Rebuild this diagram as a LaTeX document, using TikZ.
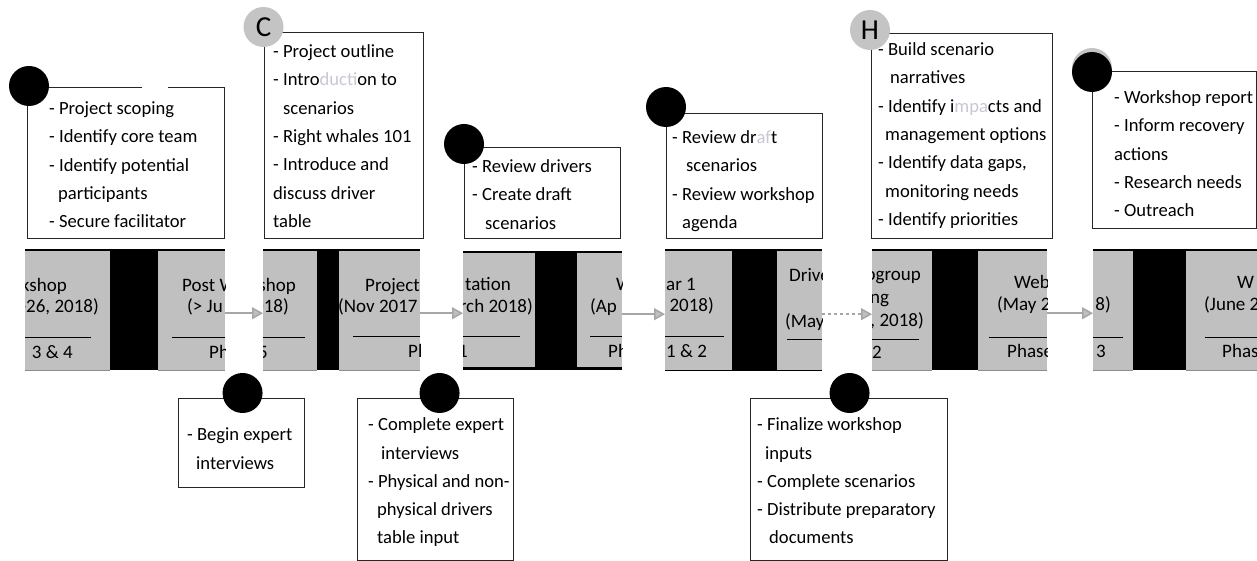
\documentclass[tikz,border=0pt]{standalone}
\usepackage{fontspec}
\setmainfont{Carlito}
\usetikzlibrary{arrows.meta,positioning}

\definecolor{stripgray}{RGB}{192,192,192}
\definecolor{dotgray}{RGB}{196,196,196}
\definecolor{arrowgray}{RGB}{166,166,166}
\definecolor{headgray}{RGB}{191,191,191}
\definecolor{fade}{RGB}{200,200,214}

\newcommand{\stripfont}{\fontsize{19}{22}\selectfont}
\newcommand{\listfont}{\fontsize{18.6}{28.3}\selectfont}
\newcommand{\dotfont}{\fontsize{29}{30}\selectfont}
\newcommand{\topstrut}{\rule{0pt}{13.5pt}}

\begin{document}
\begin{tikzpicture}[x=1pt, y=-1pt,
  piece/.style={fill=stripgray, inner sep=0pt, minimum height=120, anchor=north west},
  gapblock/.style={fill=black, inner sep=0pt, minimum height=120, anchor=north west},
  striptext/.style={font=\stripfont, inner sep=0pt},
  sepline/.style={line width=0.9pt},
  flow/.style={draw=arrowgray, line width=1.5pt, -{Triangle[length=11pt,width=12pt,fill=headgray]}},
  callout/.style={draw=black!85, line width=1.1pt, fill=white, inner sep=0pt, anchor=north west},
  listtext/.style={font=\listfont, align=left, inner sep=0pt, anchor=north west},
  blackdot/.style={circle, fill=black, minimum size=40, inner sep=0pt},
  greydot/.style={circle, fill=dotgray, minimum size=40, inner sep=0pt, font=\dotfont}]

\useasboundingbox (0,0) rectangle (1257,561);

% the strip of cut pieces
\node[piece, minimum width=85] (pA) at (25,250) {};
\node[gapblock, minimum width=48] (gA) at (110,250) {};
\node[piece, minimum width=67] (pB) at (158,250) {};
\node[piece, minimum width=54] (pC) at (263,250) {};
\node[gapblock, minimum width=22] (gB) at (317,250) {};
\node[piece, minimum width=81] (pD) at (339,250) {};
\node[piece, minimum width=72, minimum height=118] (pE) at (463,252) {};
\node[gapblock, minimum width=42, minimum height=118] (gC) at (535,252) {};
\node[piece, minimum width=45, minimum height=118] (pF) at (577,252) {};
\node[piece, minimum width=67] (pG) at (665,250) {};
\node[gapblock, minimum width=45] (gD) at (732,250) {};
\node[piece, minimum width=45] (pH) at (777,250) {};
\node[piece, minimum width=60] (pI) at (872,250) {};
\node[gapblock, minimum width=46] (gE) at (932,250) {};
\node[piece, minimum width=69] (pJ) at (978,250) {};
\node[piece, minimum width=40] (pK) at (1093,250) {};
\node[gapblock, minimum width=53] (gF) at (1133,250) {};
\node[piece, minimum width=71] (pL) at (1186,250) {};

\foreach \p in {pA,gA,pB,pC,gB,pD,pE,gC,pF,pG,gD,pH,pI,gE,pJ,pK,gF,pL}
  \draw[line width=1.6pt] (\p.north west) -- (\p.north east);
\foreach \p in {pA,pB,pC,pD,pI,pJ,pK,pL}
  \draw[black!45, line width=0.8pt] (\p.south west) -- (\p.south east);
\draw[line width=3pt] ([yshift=1.5pt]pE.south west) -- ([yshift=1.5pt]pF.south east);
\draw[line width=1.5pt] (pG.south west) -- (pH.south east);

\begin{scope}
  \clip (pA.north west) rectangle (pA.south east);
  \node[striptext, anchor=base east] at (67,291) {kshop};
  \node[striptext, anchor=base east] at (99,312) {-26, 2018)};
  \draw[sepline] (25,337) -- (91,337);
  \node[striptext, anchor=base east] at (73,358) {3 \& 4};
\end{scope}
\begin{scope}
  \clip (pB.north west) rectangle (pB.south east);
  \node[striptext, anchor=base west] at (182,291) {Post W};
  \node[striptext, anchor=base west] at (187,312) {(> Ju};
  \draw[sepline] (172,337) -- (225,337);
  \node[striptext, anchor=base west] at (209,358) {Ph};
\end{scope}
\begin{scope}
  \clip (pC.north west) rectangle (pC.south east);
  \node[striptext, anchor=base east] at (296,291) {shop};
  \node[striptext, anchor=base east] at (289,312) {018)};
  \draw[sepline] (263,337) -- (305,337);
  \node[striptext, anchor=base east] at (268,358) {5};
\end{scope}
\begin{scope}
  \clip (pD.north west) rectangle (pD.south east);
  \node[striptext, anchor=base west] at (365,291) {Project};
  \node[striptext, anchor=base west] at (338,312) {(Nov 2017};
  \draw[sepline] (353,336) -- (420,336);
  \node[striptext, anchor=base west] at (408,357) {Ph};
\end{scope}
\begin{scope}
  \clip (pE.north west) rectangle (pE.south east);
  \node[striptext, anchor=base east] at (511,290) {tation};
  \node[striptext, anchor=base east] at (533,312) {rch 2018)};
  \draw[sepline] (463,336) -- (520,336);
  \node[striptext, anchor=base east] at (468,357) {1};
\end{scope}
\begin{scope}
  \clip (pF.north west) rectangle (pF.south east);
  \node[striptext, anchor=base west] at (616,290) {W};
  \node[striptext, anchor=base west] at (590,312) {(Ap};
  \draw[sepline] (590,336) -- (622,336);
  \node[striptext, anchor=base west] at (608,357) {Ph};
\end{scope}
\begin{scope}
  \clip (pG.north west) rectangle (pG.south east);
  \node[striptext, anchor=base west] at (666,290) {ar 1};
  \node[striptext, anchor=base east] at (714,311) {2018)};
  \draw[sepline] (665,336) -- (724,336);
  \node[striptext, anchor=base west] at (666,357) {1 \& 2};
\end{scope}
\begin{scope}
  \clip (pH.north west) rectangle (pH.south east);
  \node[striptext, anchor=base west] at (789,281) {Drive};
  \node[striptext, anchor=base west] at (785,327) {(May};
  \draw[sepline] (787,339) -- (822,339);
\end{scope}
\begin{scope}
  \clip (pI.north west) rectangle (pI.south east);
  \node[striptext, anchor=base east] at (921,280) {ogroup};
  \node[striptext, anchor=base west] at (870,303) {ng};
  \node[striptext, anchor=base east] at (924,326) {, 2018)};
  \draw[sepline] (872,339) -- (919,339);
  \node[striptext, anchor=base west] at (872,358) {2};
\end{scope}
\begin{scope}
  \clip (pJ.north west) rectangle (pJ.south east);
  \node[striptext, anchor=base west] at (1014,288) {Web};
  \node[striptext, anchor=base west] at (997,310) {(May 2};
  \draw[sepline] (989,337) -- (1047,337);
  \node[striptext, anchor=base west] at (1007,357) {Phase};
\end{scope}
\begin{scope}
  \clip (pK.north west) rectangle (pK.south east);
  \node[striptext, anchor=base east] at (1111,310) {8)};
  \draw[sepline] (1093,337) -- (1123,337);
  \node[striptext, anchor=base west] at (1096,357) {3};
\end{scope}
\begin{scope}
  \clip (pL.north west) rectangle (pL.south east);
  \node[striptext, anchor=base west] at (1237,288) {W};
  \node[striptext, anchor=base west] at (1204,310) {(June 2};
  \draw[sepline] (1205,337) -- (1257,337);
  \node[striptext, anchor=base west] at (1222,357) {Phas};
\end{scope}

\draw[flow] ([yshift=-3pt]pB.east) -- ([yshift=-3pt]pC.west);
\draw[flow] ([yshift=-3pt]pD.east) -- ([yshift=-2pt]pE.west);
\draw[flow] ([yshift=-3pt]pF.east) -- ([yshift=-4pt]pG.west);
\draw[flow, dashed] ([yshift=-4pt]pH.east) -- ([yshift=-4pt]pI.west);
\draw[flow] ([yshift=-3pt]pJ.east) -- ([yshift=-3pt]pK.west);

% callouts above the strip
\node[callout, minimum width=197, minimum height=151] (bA) at (27,87) {};
\draw[white, line width=2pt] ([xshift=115pt]bA.north west) -- ([xshift=141pt]bA.north west);
\node[listtext] (tA) at ([shift={(22,14)}]bA.north west)
  {\topstrut- Project scoping\\- Identify core team\\- Identify potential\\\hspace*{9pt}participants\\- Secure facilitator};
\node[blackdot] (dA) at ([shift={(2,-1)}]bA.north west) {};

\node[callout, minimum width=159, minimum height=206] (bC) at (264,32) {};
\node[listtext] (tC) at ([shift={(9,12)}]bC.north west)
  {\topstrut- Project outline\\- Intro\textcolor{fade}{ducti}on to\\\hspace*{10pt}scenarios\\- Right whales 101\\- Introduce and\\discuss driver\\table};
\node[greydot] (dC) at ([shift={(-0.5,-5)}]bC.north west) {C};

\node[callout, minimum width=156, minimum height=91] (bD) at (464,147) {};
\node[listtext] (tD) at ([shift={(8,12)}]bD.north west)
  {\topstrut- Review drivers\\- Create draft\\\hspace*{13pt}scenarios};
\node[blackdot] (dD) at ([shift={(0,-3)}]bD.north west) {};

\node[callout, minimum width=156, minimum height=125] (bE) at (666,113) {};
\node[listtext] (tE) at ([shift={(6,17)}]bE.north west)
  {\topstrut- Review dr\textcolor{fade}{af}t\\\hspace*{14pt}scenarios\\- Review workshop\\\hspace*{10pt}agenda};
\node[blackdot] (dE) at ([shift={(0,-6)}]bE.north west) {};

\node[callout, minimum width=181, minimum height=205] (bH) at (871,33) {};
\node[listtext] (tH) at ([shift={(7,9)}]bH.north west)
  {\topstrut- Build scenario\\\hspace*{12pt}narratives\\- Identify i\textcolor{fade}{mpa}cts and\\\hspace*{7pt}management options\\- Identify data gaps,\\\hspace*{7pt}monitoring needs\\- Identify priorities};
\node[greydot] (dH) at ([shift={(-1,-3)}]bH.north west) {H};

\node[callout, minimum width=164, minimum height=157] (bI) at (1092,71) {};
\node[listtext] (tI) at ([shift={(22,19)}]bI.north west)
  {\topstrut- Workshop report\\- Inform recovery\\actions\\- Research needs\\- Outreach};
\node[greydot] (cI) at ([shift={(0,-3)}]bI.north west) {};
\node[blackdot] (dI) at ([shift={(0,1)}]bI.north west) {};

% callouts below the strip
\node[callout, minimum width=126, minimum height=89] (bB) at (178,398) {};
\node[listtext] (tB) at ([shift={(9,29)}]bB.north west)
  {\topstrut- Begin expert\\\hspace*{9pt}interviews};
\node[blackdot] (dB) at ([shift={(1,-5)}]bB.north) {};

\node[callout, minimum width=156, minimum height=162] (bF) at (357,398) {};
\node[listtext] (tF) at ([shift={(11,19)}]bF.north west)
  {\topstrut- Complete expert\\\hspace*{13pt}interviews\\- Physical and non-\\\hspace*{9pt}physical drivers\\\hspace*{9pt}table input};
\node[blackdot] (dF) at ([shift={(4,-5)}]bF.north) {};

\node[callout, minimum width=197, minimum height=162] (bG) at (750,398) {};
\node[listtext] (tG) at ([shift={(7,19)}]bG.north west)
  {\topstrut- Finalize workshop\\\hspace*{8pt}inputs\\- Complete scenarios\\- Distribute preparatory\\\hspace*{12pt}documents};
\node[blackdot] (dG) at ([shift={(0.5,-5)}]bG.north) {};

\end{tikzpicture}
\end{document}
